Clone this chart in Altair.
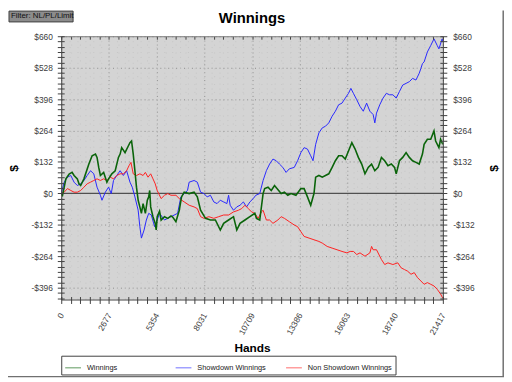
import altair as alt
import pandas as pd

# ---------------- data ----------------
win_hands = [0, 72, 260, 443, 609, 719, 902, 996, 1090, 1273,
             1550, 1732, 1920, 2009, 2103, 2197, 2380, 2562, 2656, 2839,
             3027, 3210, 3304, 3392, 3580, 3763, 3857, 3946, 4040, 4134,
             4222, 4317, 4411, 4499, 4593, 4721, 4831, 4909, 4964, 5019,
             5147, 5274, 5329, 5385, 5517, 5606, 5794, 5977, 6159, 6253,
             6436, 6624, 6751, 6901, 7178, 7454, 7637, 7820, 8096, 8373,
             8650, 8926, 9114, 9391, 9668, 9851, 10033, 10310, 10587, 10863,
             10957, 11140, 11328, 11416, 11605, 11787, 11970, 12341, 12523, 12712,
             12894, 13171, 13448, 13630, 13818, 14001, 14184, 14278, 14460, 14649,
             15014, 15202, 15385, 15567, 15756, 15938, 16121, 16309, 16492, 16674,
             16862, 17045, 17228, 17416, 17598, 17781, 17969, 18152, 18335, 18523,
             18705, 18799, 18982, 19164, 19353, 19535, 19718, 19906, 20088, 20271,
             20365, 20548, 20736, 20918, 21012, 21195, 21289, 21417]
win_vals = [0, -8, 61, 81, 88, 75, 61, 40, 33, 61,
            123, 158, 165, 151, 109, 75, 88, 47, 61, 82,
            95, 151, 165, 192, 171, 199, 213, 220, 165, 95,
            26, -29, -57, -84, -43, -84, -29, -15, 12, -57,
            -98, -126, -154, -98, -75, -112, -98, -105, -95, -100,
            -119, -71, -15, 5, -1, 5, -15, -71, -105, -112,
            -112, -154, -126, -112, -98, -154, -126, -112, -98, -84,
            -105, -112, -1, 20, 26, 12, 33, -1, 5, -8,
            -1, -8, 20, 20, -15, -50, -1, 68, 75, 68,
            82, 109, 137, 158, 158, 144, 178, 213, 186, 151,
            123, 82, 109, 123, 95, 109, 151, 137, 116, 123,
            109, 82, 137, 151, 171, 151, 137, 130, 123, 165,
            206, 227, 227, 262, 220, 192, 227, 206]

sd_hands = [0, 166, 349, 537, 719, 902, 1090, 1273, 1455, 1644,
            1826, 2009, 2197, 2286, 2474, 2656, 2806, 2933, 3116, 3304,
            3486, 3669, 3857, 3985, 4134, 4317, 4411, 4499, 4649, 4776,
            4909, 5052, 5241, 5385, 5517, 5794, 6159, 6530, 6713, 6901,
            7084, 7178, 7454, 7637, 7820, 8008, 8190, 8373, 8561, 8744,
            8926, 9114, 9297, 9391, 9480, 9668, 9851, 10033, 10221, 10404,
            10587, 10775, 10919, 11140, 11328, 11511, 11693, 11882, 12064, 12247,
            12435, 12618, 12800, 13077, 13265, 13448, 13630, 13818, 14001, 14129,
            14278, 14460, 14649, 14831, 15014, 15202, 15385, 15567, 15756, 15938,
            16121, 16254, 16398, 16585, 16768, 16951, 17139, 17321, 17504, 17598,
            17693, 17875, 18058, 18246, 18428, 18611, 18799, 18982, 19164, 19353,
            19535, 19718, 19906, 20088, 20182, 20271, 20365, 20548, 20736, 20918,
            21101, 21195, 21378, 21417]
sd_vals = [0, 47, 68, 75, 47, 33, 40, 54, 75, 95,
           82, 26, -8, -29, 5, 26, -1, 54, 75, 95,
           75, 95, 47, 26, -15, -71, -140, -188, -154, -112,
           -84, -91, -140, -112, -84, -112, -98, -84, -15, -1,
           12, 47, 54, 47, 5, -1, -15, -8, -36, -43,
           -29, -36, -43, -8, -50, -71, -57, -50, -36, -57,
           -36, -22, -8, -1, 54, 95, 123, 144, 137, 123,
           109, 88, 103, 109, 137, 171, 192, 186, 158, 137,
           206, 254, 275, 282, 296, 324, 345, 372, 379, 400,
           420, 441, 420, 393, 365, 345, 379, 345, 331, 296,
           337, 372, 400, 420, 414, 414, 400, 428, 455, 462,
           469, 483, 476, 504, 524, 545, 552, 594, 621, 649,
           621, 607, 649, 635]

nsd_hands = [0, 166, 349, 537, 719, 902, 1090, 1273, 1455, 1644,
             1826, 2009, 2197, 2380, 2562, 2750, 2933, 3116, 3304, 3486,
             3669, 3802, 3913, 4040, 4222, 4411, 4593, 4721, 4870, 5019,
             5147, 5274, 5385, 5606, 5794, 5977, 6159, 6436, 6624, 6901,
             7178, 7454, 7637, 7820, 8008, 8284, 8561, 8838, 9114, 9391,
             9668, 9945, 10127, 10310, 10498, 10681, 10863, 11051, 11234, 11328,
             11511, 11693, 11882, 12158, 12341, 12523, 12800, 13077, 13265, 13448,
             13630, 13907, 14184, 14460, 14649, 14925, 15202, 15479, 15756, 16032,
             16215, 16398, 16585, 16768, 17045, 17321, 17416, 17504, 17693, 17969,
             18152, 18335, 18611, 18888, 19076, 19259, 19441, 19630, 19812, 19995,
             20182, 20365, 20548, 20736, 20918, 21101, 21289, 21417]
nsd_vals = [0, 5, 20, 12, 5, 5, 12, 26, 40, 47,
            54, 61, 54, 61, 54, 68, 61, 75, 82, 82,
            95, 116, 130, 82, 75, 82, 75, 88, 68, 82,
            61, 40, 12, -22, -8, -1, -8, -8, -22, -36,
            -50, -57, -64, -98, -105, -98, -105, -98, -91, -91,
            -78, -71, -64, -50, -64, -78, -84, -105, -78, -71,
            -112, -112, -126, -112, -98, -105, -119, -133, -140, -161,
            -181, -188, -195, -202, -209, -223, -230, -237, -244, -250,
            -244, -244, -257, -250, -264, -250, -223, -237, -237, -278,
            -299, -292, -299, -292, -313, -320, -327, -340, -333, -354,
            -368, -382, -375, -382, -389, -403, -423, -441]

series_names = ["Winnings", "Showdown Winnings", "Non Showdown Winnings"]
series_colors = ["#0a640a", "#2828ff", "#ff2020"]

x_tick_labels = ["0", "2677", "5354", "8031", "10709", "13386", "16063", "18740", "21417"]
y_tick_labels = ["-$396", "-$264", "-$132", "$0", "$132", "$264", "$396", "$528", "$660"]
X_MAX = 21417
Y_MIN, Y_MAX = -446, 660
Y_STEP, Y_MINOR = 132, 22

# ---------------- frame ----------------
rows = []
for name, hs, vs in [("Winnings", win_hands, win_vals),
                     ("Showdown Winnings", sd_hands, sd_vals),
                     ("Non Showdown Winnings", nsd_hands, nsd_vals)]:
    for h, v in zip(hs, vs):
        rows.append({"series": name, "hands": h, "dollars": v})
df = pd.DataFrame(rows)
one = pd.DataFrame({"k": [0]})

W, H = 387, 267
LF = "Liberation Sans"

x_minor = [X_MAX * i / 40 for i in range(41)]
x_major = [X_MAX * i / 8 for i in range(9)]
y_minor = list(range(-440, Y_MAX + 1, Y_MINOR))
y_major = list(range(-396, Y_MAX + 1, Y_STEP))

xlab = "[" + ",".join("'%s'" % s for s in x_tick_labels) + "]"
ylab = "[" + ",".join("'%s'" % s for s in y_tick_labels) + "]"
x_label_expr = ("round(datum.value*40/%d) %% 5 === 0 ? %s[round(datum.value*8/%d)] : ''"
                % (X_MAX, xlab, X_MAX))
y_label_expr = "datum.value %% %d === 0 ? %s[(datum.value + 396)/%d] : ''" % (Y_STEP, ylab, Y_STEP)

xscale = alt.Scale(domain=[0, X_MAX], nice=False, zero=False)
yscale = alt.Scale(domain=[Y_MIN, Y_MAX], nice=False, zero=False)


def ax(**kw):
    base = dict(labelFont=LF, labelFontSize=8.5, labelColor="#404040",
                tickColor="#404040", domainColor="#404040", tickWidth=1,
                titleFont=LF, titleColor="#000000", titleFontWeight="bold",
                labelFlush=False, labelOverlap=False, labelBound=False,
                grid=False, title=None, zindex=2)
    base.update(kw)
    return alt.Axis(**base)


def axis_layer(xaxis, yaxis):
    return alt.Chart(df).mark_point(opacity=0).encode(
        x=alt.X("hands:Q", scale=xscale, axis=xaxis),
        y=alt.Y("dollars:Q", scale=yscale, axis=yaxis),
    )


grid_major = dict(grid=True, gridColor="#8a8a8a", gridDash=[1, 3], gridWidth=1,
                  ticks=False, labels=False, domain=False, zindex=0)
grid_minor = dict(grid=True, gridColor="#c6c6c6", gridDash=[1, 7], gridWidth=1,
                  ticks=False, labels=False, domain=False, zindex=0)

L_grid1 = axis_layer(ax(orient="bottom", values=x_major, **grid_major),
                     ax(orient="left", values=y_major, **grid_major))
L_grid2 = axis_layer(ax(orient="bottom", values=x_minor, **grid_minor),
                     ax(orient="left", values=y_minor, **grid_minor))

L_main = axis_layer(
    ax(orient="bottom", values=x_minor, labelExpr=x_label_expr, labelAngle=300,
       labelAlign="right", labelBaseline="middle", labelPadding=10, tickSize=4,
       title="Hands", titleFontSize=12, titleX=W / 2, titleY=49,
       titleBaseline="middle", titleAlign="center", titleAngle=0),
    ax(orient="left", values=y_minor, labelExpr=y_label_expr, tickSize=4,
       labelPadding=5, title="$", titleFontSize=12, titleAngle=270,
       titleX=-48, titleY=H / 2, titleBaseline="middle", titleAlign="center"),
)
L_second = axis_layer(
    ax(orient="bottom", offset=-H, values=x_minor, labels=False, tickSize=3,
       domainColor="#808080"),
    ax(orient="right", values=y_minor, labelExpr=y_label_expr, tickSize=4,
       labelPadding=6, title="$", titleFontSize=12, titleAngle=270,
       titleX=51, titleY=H / 2, titleBaseline="middle", titleAlign="center"),
)
L_inner1 = axis_layer(
    ax(orient="top", offset=-H, values=x_minor, labels=False, domain=False, tickSize=3),
    ax(orient="right", offset=-W, values=y_minor, labels=False, domain=False, tickSize=3),
)
L_inner2 = axis_layer(
    None,
    ax(orient="left", offset=-W, values=y_minor, labels=False, domain=False, tickSize=3),
)

legend = alt.Legend(
    title=None, orient="none", legendX=0, legendY=324, direction="horizontal",
    columns=3, gridAlign="all", columnPadding=1, rowPadding=0,
    strokeColor="#404040", fillColor="#ffffff", padding=3,
    labelFont=LF, labelFontSize=7.5, labelColor="#202020", labelOffset=5,
    labelLimit=300, symbolType="stroke", symbolSize=256, symbolStrokeWidth=1.2,
    symbolOpacity=0.55,
)
color = alt.Color("series:N", scale=alt.Scale(domain=series_names, range=series_colors),
                  legend=legend)

zero = alt.Chart(one).mark_rule(color="#505050", strokeWidth=1.2).encode(
    y=alt.Y(datum=0, scale=yscale, axis=None))


def series_layer(name, width):
    return alt.Chart(df).transform_filter(alt.datum.series == name).mark_line(
        strokeWidth=width, clip=True).encode(
        x=alt.X("hands:Q", scale=xscale, axis=None),
        y=alt.Y("dollars:Q", scale=yscale, axis=None),
        color=color,
        order=alt.Order("hands:Q"),
    )


title_txt = alt.Chart(one).mark_text(text="Winnings", font=LF, fontSize=15,
                                     fontWeight="bold", color="#000000",
                                     align="center", baseline="middle").encode(
    x=alt.value(W / 2), y=alt.value(-18))

filt_box = alt.Chart(one).mark_rect(fill="#8c8c8c", stroke="#404040", strokeWidth=1).encode(
    x=alt.value(-53), x2=alt.value(12), y=alt.value(-25.5), y2=alt.value(-14.5))
filt_txt = alt.Chart(one).mark_text(text="Filter: NL/PL/Limit", font=LF, fontSize=8,
                                    color="#101010", align="left", baseline="middle").encode(
    x=alt.value(-51), y=alt.value(-20))

frame_r = alt.Chart(one).mark_rule(color="#707070", strokeWidth=1.5).encode(
    x=alt.value(448.2), y=alt.value(-26), y2=alt.value(345.5))
frame_b = alt.Chart(one).mark_rule(color="#707070", strokeWidth=1.5).encode(
    x=alt.value(-54), x2=alt.value(449), y=alt.value(345.2))

chart = alt.layer(
    L_grid1, L_grid2, L_main, L_second, L_inner1, L_inner2, zero,
    series_layer("Showdown Winnings", 1),
    series_layer("Non Showdown Winnings", 1),
    series_layer("Winnings", 1.6),
    title_txt, filt_box, filt_txt, frame_r, frame_b,
).resolve_axis(x="independent", y="independent").properties(
    width=W, height=H,
    autosize=alt.AutoSizeParams(type="none"),
    padding={"left": 54, "top": 26, "right": 62, "bottom": 80},
).configure_view(fill="#d4d4d4", stroke=None)

chart.save("out.html", embed_options={"renderer": "svg", "actions": False})
